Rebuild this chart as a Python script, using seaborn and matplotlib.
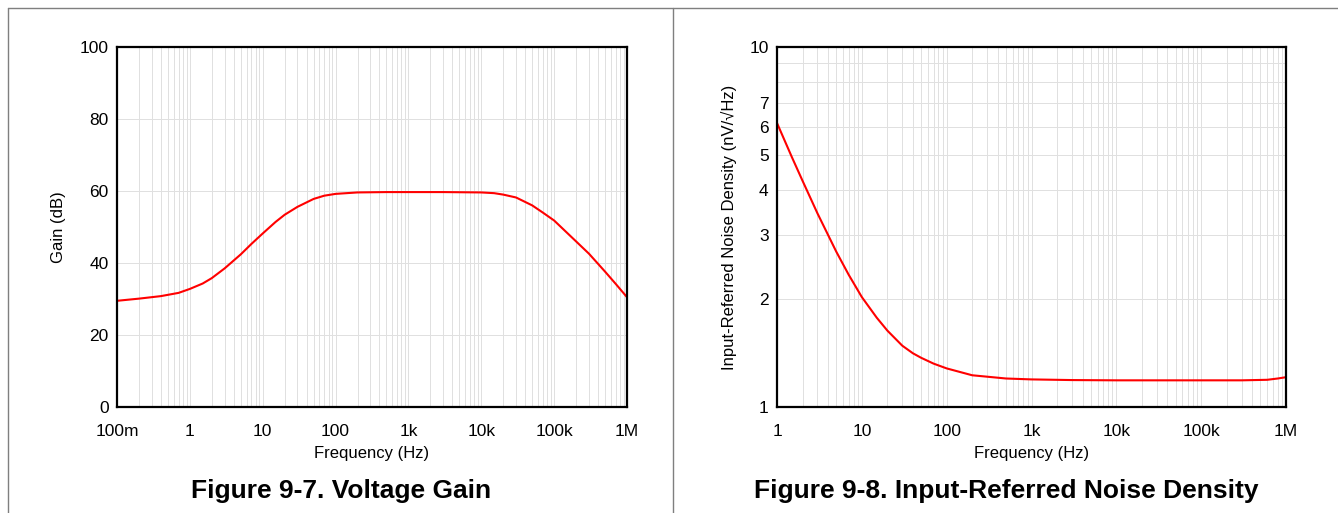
import numpy as np
import pandas as pd
import seaborn as sns
import matplotlib
matplotlib.use('Agg')
import matplotlib.pyplot as plt
from matplotlib.lines import Line2D
from matplotlib.ticker import FixedLocator, FixedFormatter, NullFormatter, LogLocator

sns.set_style("white")
plt.rcParams['font.family'] = ['Liberation Sans', 'DejaVu Sans']
plt.rcParams['text.color'] = 'black'
plt.rcParams['axes.labelcolor'] = 'black'
plt.rcParams['xtick.color'] = 'black'
plt.rcParams['ytick.color'] = 'black'

# Figure 9-7 voltage gain
gain_freq = [0.1, 0.2, 0.4, 0.7, 1, 1.5, 2, 3, 5, 7, 10, 15, 20, 30, 50, 70, 100, 200,
             500, 1e3, 3e3, 1e4, 1.5e4, 2e4, 3e4, 5e4, 7e4, 1e5, 2e5, 3e5, 5e5, 7e5, 1e6]
gain_db = [29.5, 30.1, 30.8, 31.7, 32.8, 34.3, 35.8, 38.5, 42.4, 45.3, 48.2, 51.4, 53.4,
           55.6, 57.8, 58.7, 59.2, 59.6, 59.7, 59.7, 59.7, 59.6, 59.4, 59.0, 58.2, 56.0,
           54.0, 51.8, 46.0, 42.6, 37.6, 34.2, 30.5]

# Figure 9-8 input-referred noise density
noise_freq = [1, 1.5, 2, 3, 5, 7, 10, 15, 20, 30, 40, 50, 70, 100, 200, 500, 1e3,
              3e3, 1e4, 1e5, 3e5, 6e5, 8e5, 1e6]
noise_nv = [6.15, 4.94, 4.25, 3.45, 2.70, 2.33, 2.02, 1.77, 1.63, 1.48, 1.41, 1.37, 1.32,
            1.28, 1.225, 1.2, 1.193, 1.188, 1.186, 1.186, 1.186, 1.19, 1.2, 1.21]

gain_ticks = [0.1, 1, 10, 100, 1e3, 1e4, 1e5, 1e6]
gain_tick_labels = ['100m', '1', '10', '100', '1k', '10k', '100k', '1M']
noise_xticks = [1, 10, 100, 1e3, 1e4, 1e5, 1e6]
noise_xtick_labels = ['1', '10', '100', '1k', '10k', '100k', '1M']
noise_yticks = [1, 2, 3, 4, 5, 6, 7, 10]
noise_ytick_labels = ['1', '2', '3', '4', '5', '6', '7', '10']

df_gain = pd.DataFrame({'freq': gain_freq, 'gain': gain_db})
df_noise = pd.DataFrame({'freq': noise_freq, 'noise': noise_nv})

fig = plt.figure(figsize=(13.38, 5.13), dpi=100)
ax1 = fig.add_axes([117/1338, 1 - 407/513, 510/1338, 360/513])
ax2 = fig.add_axes([777/1338, 1 - 407/513, 509/1338, 360/513])

grid_kw = dict(color='#e0e0e0', linewidth=0.7)

# left: voltage gain
sns.lineplot(data=df_gain, x='freq', y='gain', ax=ax1, color='#ff0000', linewidth=1.5)
ax1.set_xscale('log')
ax1.set_xlim(0.1, 1e6)
ax1.set_ylim(0, 100)
ax1.xaxis.set_major_locator(FixedLocator(gain_ticks))
ax1.xaxis.set_major_formatter(FixedFormatter(gain_tick_labels))
ax1.xaxis.set_minor_locator(LogLocator(base=10, subs=np.arange(2, 10), numticks=20))
ax1.xaxis.set_minor_formatter(NullFormatter())
ax1.set_yticks([0, 20, 40, 60, 80, 100])
ax1.grid(True, which='both', axis='x', **grid_kw)
ax1.grid(True, which='major', axis='y', **grid_kw)
ax1.set_xlabel('Frequency (Hz)', fontsize=12, labelpad=5)
ax1.set_ylabel('Gain (dB)', fontsize=12, labelpad=10)

# right: noise density
sns.lineplot(data=df_noise, x='freq', y='noise', ax=ax2, color='#ff0000', linewidth=1.5)
ax2.set_xscale('log')
ax2.set_yscale('log')
ax2.set_xlim(1, 1e6)
ax2.set_ylim(1, 10)
ax2.xaxis.set_major_locator(FixedLocator(noise_xticks))
ax2.xaxis.set_major_formatter(FixedFormatter(noise_xtick_labels))
ax2.xaxis.set_minor_locator(LogLocator(base=10, subs=np.arange(2, 10), numticks=20))
ax2.xaxis.set_minor_formatter(NullFormatter())
ax2.yaxis.set_major_locator(FixedLocator(noise_yticks))
ax2.yaxis.set_major_formatter(FixedFormatter(noise_ytick_labels))
ax2.yaxis.set_minor_locator(FixedLocator([8, 9]))
ax2.yaxis.set_minor_formatter(NullFormatter())
ax2.grid(True, which='both', **grid_kw)
ax2.set_xlabel('Frequency (Hz)', fontsize=12, labelpad=5)
ax2.set_ylabel('Input-Referred Noise Density (nV/\u221aHz)', fontsize=12, labelpad=9)

for ax in (ax1, ax2):
    ax.tick_params(axis='x', which='both', length=0, labelsize=12.5, pad=12)
    ax.tick_params(axis='y', which='both', length=0, labelsize=12.5, pad=6)
    for s in ax.spines.values():
        s.set_color('black')
        s.set_linewidth(1.6)
        s.set_visible(True)
    ax.set_axisbelow(True)

# panel frame lines
frame_kw = dict(color='#7f7f7f', linewidth=1.0, transform=fig.transFigure)
fig.add_artist(Line2D([8/1338, 1], [1 - 8/513, 1 - 8/513], **frame_kw))
fig.add_artist(Line2D([8/1338, 8/1338], [0, 1 - 8/513], **frame_kw))
fig.add_artist(Line2D([673/1338, 673/1338], [0, 1 - 8/513], **frame_kw))

fig.text(341/1338, 1 - 491/513, 'Figure 9-7. Voltage Gain', ha='center', va='center',
         fontsize=19, fontweight='bold', color='black')
fig.text(1006/1338, 1 - 491/513, 'Figure 9-8. Input-Referred Noise Density', ha='center',
         va='center', fontsize=19, fontweight='bold', color='black')

fig.savefig('out.png', dpi=100)
